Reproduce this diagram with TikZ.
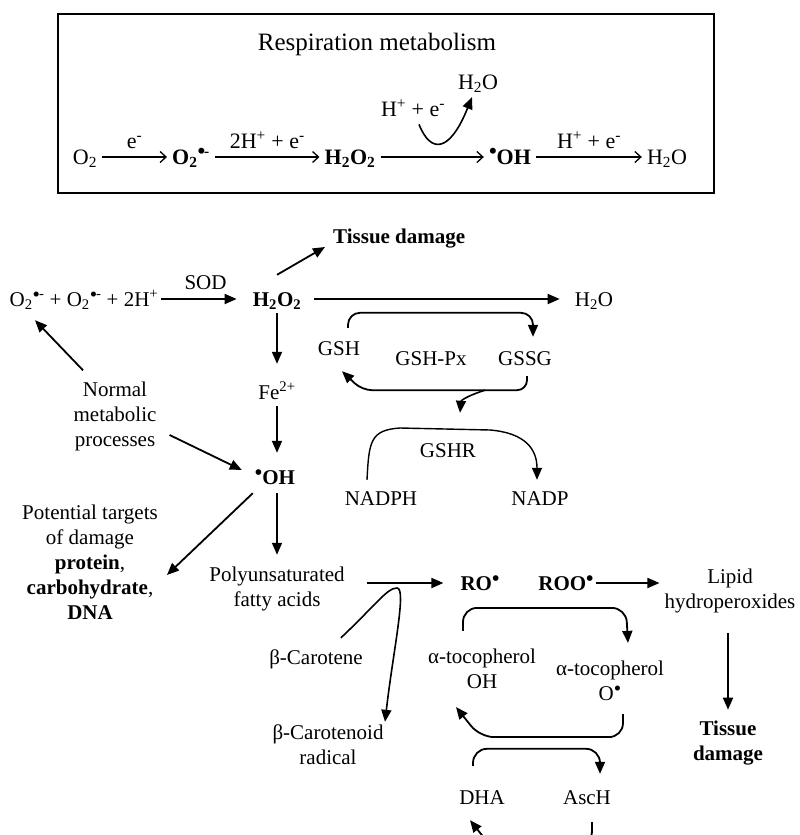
\documentclass[tikz,border=0pt]{standalone}
\usepackage{fontspec}
\setmainfont{Liberation Serif}
\usetikzlibrary{arrows.meta,calc}
% radical dot and chemical formulas used in several labels
\newcommand\rdot{\raisebox{0.5ex}{•}}
\newcommand\superox{O\textsubscript{2}\rdot\kern-0.05em\textsuperscript{-}}
\newcommand\hperox{H\textsubscript{2}O\textsubscript{2}}
\newcommand\water{H\textsubscript{2}O}
\newcommand\hydrox{\rdot OH}

\begin{document}
\begin{tikzpicture}[x=1pt,y=-1pt,
  every node/.style={inner sep=0pt},
  txt/.style={font=\fontsize{21}{25}\selectfont, text height=15pt, text depth=1pt},
  mtxt/.style={font=\fontsize{21}{25}\selectfont, align=center},
  rtxt/.style={font=\fontsize{22}{26}\selectfont, text height=16pt, text depth=2pt},
  rlab/.style={font=\fontsize{22}{26}\selectfont, midway, anchor=base, yshift=9pt},
  slab/.style={font=\fontsize{21}{25}\selectfont, midway, anchor=base, yshift=10pt},
  arr/.style={line width=1.8pt, -{Triangle[length=12pt,width=10pt]}},
  rxn/.style={line width=1.3pt, -{Straight Barb[length=6pt,width=11pt]}, shorten <=5pt, shorten >=5pt},
  cyc/.style={arr, rounded corners=12pt}]

\path[use as bounding box] (0,0) rectangle (800,835);
\clip (0,0) rectangle (800,835);

% ---------- respiration chain in its frame ----------
\draw[line width=2.2pt] (58,14) rectangle (714,193);
\node[font=\fontsize{25}{30}\selectfont] (title) at (377,44) {Respiration metabolism};
\node[rtxt] (a1) at (85,157) {O\textsubscript{2}};
\node[rtxt] (a2) at (191,157) {\bfseries\superox};
\node[rtxt] (a3) at (350,157) {\bfseries\hperox};
\node[rtxt] (a4) at (510,157) {\bfseries\hydrox};
\node[rtxt] (a5) at (667,157) {\water};
\draw[rxn] (a1) -- (a2) node[rlab] {e\textsuperscript{-}};
\draw[rxn] (a2) -- (a3) node[rlab] {2H\textsuperscript{+} + e\textsuperscript{-}};
\draw[rxn] (a3) -- (a4);
\draw[rxn] (a4) -- (a5) node[rlab] {H\textsuperscript{+} + e\textsuperscript{-}};
\node[font=\fontsize{22}{26}\selectfont] (hc) at (413,108) {H\textsuperscript{+} + e\textsuperscript{-}};
\node[font=\fontsize{22}{26}\selectfont] (hw) at (478,84) {\water};
\draw[arr, line width=1.6pt] ($(hc.south)+(6,8)$) .. controls +(12,30) and +(-22,55) .. ($(hw.south)+(-6,4)$);

% ---------- peroxide branch ----------
\node[txt] (reac) at (84,299) {\superox{} + \superox{} + 2H\textsuperscript{+}};
\node[txt] (h2o2) at (277,299) {\bfseries\hperox};
\draw[arr, shorten <=3pt, shorten >=16pt] (reac) -- (h2o2) node[slab] {SOD};
\node[txt, anchor=west] (tis1) at (333,236) {\bfseries Tissue damage};
\draw[arr] ($(h2o2.north)+(0,-16)$) -- ($(tis1.west)+(-8,11)$);
\node[txt] (h2o) at (594,299) {\water};
\draw[arr, shorten <=13pt, shorten >=15pt] (h2o2) -- (h2o);
\node[txt] (fe) at (277,392) {Fe\textsuperscript{2+}};
\draw[arr, shorten <=6pt, shorten >=20pt] (h2o2) -- (fe);
\node[txt] (oh) at (275,477) {\bfseries\hydrox};
\draw[arr, shorten <=6pt, shorten >=16pt] (fe) -- (fe |- oh.north);

\node[mtxt] (norm) at (115,416) {Normal\\metabolic\\processes};
\draw[arr] ($(norm.north)+(-32,-11)$) -- ($(reac.south)+(-49,13)$);
\draw[arr] ($(norm.east)+(13,19)$) -- ($(oh.west)+(-13,-7)$);

\node[mtxt] (targ) at (90,562) {Potential targets\\of damage\\\textbf{protein},\\\textbf{carbohydrate},\\\textbf{DNA}};
\draw[arr] ($(oh.south west)+(-2,8)$) -- ($(targ.east)+(9,13)$);

\node[mtxt] (pufa) at (277,589) {Polyunsaturated\\fatty acids};
\draw[arr, shorten <=8pt, shorten >=12pt] (oh.south -| pufa) -- (pufa.north);

% ---------- glutathione cycle ----------
\node[txt] (gsh) at (339,348) {GSH};
\node[txt] (gshpx) at (431,358) {GSH-Px};
\node[txt] (gssg) at (525,358) {GSSG};
\draw[cyc] ($(gsh.north)+(9,-12)$) |- ($(gssg.north)+(8,-37)$) -- ($(gssg.north)+(8,-13)$);
\draw[cyc, rounded corners=10pt] ($(gssg.south)+(2,10)$) |- ($(gsh.south)+(23,34)$) -- ($(gsh.south)+(3,15)$);
\node[txt] (gshr) at (448,450) {GSHR};
\node[txt] (nadph) at (381,498) {NADPH};
\node[txt] (nadp) at (540,498) {NADP};
\draw[arr, line width=1.6pt] ($(gssg.south)+(-40,24)$) .. controls +(-19,6) and +(1,-12) .. ($(gshr.north)+(12,-29)$);
\coordinate (gr1) at (400,428);
\coordinate (gr2) at (490,430);
\draw[arr, line width=1.4pt] ($(nadph.north)+(-14,-10)$) .. controls +(2,-38) and +(-30,2) .. (gr1)
  -- (gr2) .. controls +(36,3) and +(0,-30) .. ($(nadp.north)+(-3,-10)$);

% ---------- lipid peroxidation ----------
\node[txt] (ro) at (480,583) {\bfseries RO\rdot};
\node[txt] (roo) at (566,583) {\bfseries ROO\rdot};
\draw[arr] ($(pufa.east)+(22,-6)$) -- ($(ro.west)+(-17,0)$);
\node[mtxt] (lipid) at (730,591) {Lipid\\hydroperoxides};
\draw[arr, shorten <=2pt, shorten >=5pt] (roo.east) -- (roo.east -| lipid.west);
\node[mtxt] (tis2) at (728,743) {\textbf{Tissue}\\\textbf{damage}};
\draw[arr, shorten <=20pt, shorten >=11pt] (lipid.south -| tis2) -- (tis2.north);

\node[txt] (bcar) at (316,657) {β-Carotene};
\node[mtxt] (bcrad) at (328,745) {β-Carotenoid\\radical};
\coordinate (pk) at (397,588);
\draw[arr, line width=1.6pt] ($(bcar.north east)+(-22,-11)$) .. controls +(35,-33) and +(-10,0) .. (pk)
  .. controls +(10,0) and +(8,-70) .. ($(bcrad.north)+(57,-3)$);

% ---------- tocopherol / ascorbate cycles ----------
\node[mtxt] (toc1) at (482,669) {α-tocopherol\\OH};
\node[mtxt] (toc2) at (610,681) {α-tocopherol\\O\rdot};
\draw[cyc, rounded corners=14pt] ($(toc1.north)+(-19,-18)$) |- ($(toc2.north)+(16,-53)$) -- ($(toc2.north)+(18,-18)$);
\draw[cyc, rounded corners=14pt] ($(toc2.south)+(13,13)$) |- ($(toc1.south)+(-2,48)$) -- ($(toc1.south)+(-26,18)$);
\node[txt] (dha) at (482,797) {DHA};
\node[txt] (asch) at (587,797) {AscH};
\draw[cyc, rounded corners=14pt] ($(dha.north)+(-9,-23)$) |- ($(asch.north)+(13,-40)$) -- ($(asch.north)+(13,-15)$);
\draw[cyc, rounded corners=14pt] ($(asch.south)+(5,17)$) |- ($(dha.south)+(8,40)$) -- ($(dha.south)+(-12,15)$);
\end{tikzpicture}
\end{document}
